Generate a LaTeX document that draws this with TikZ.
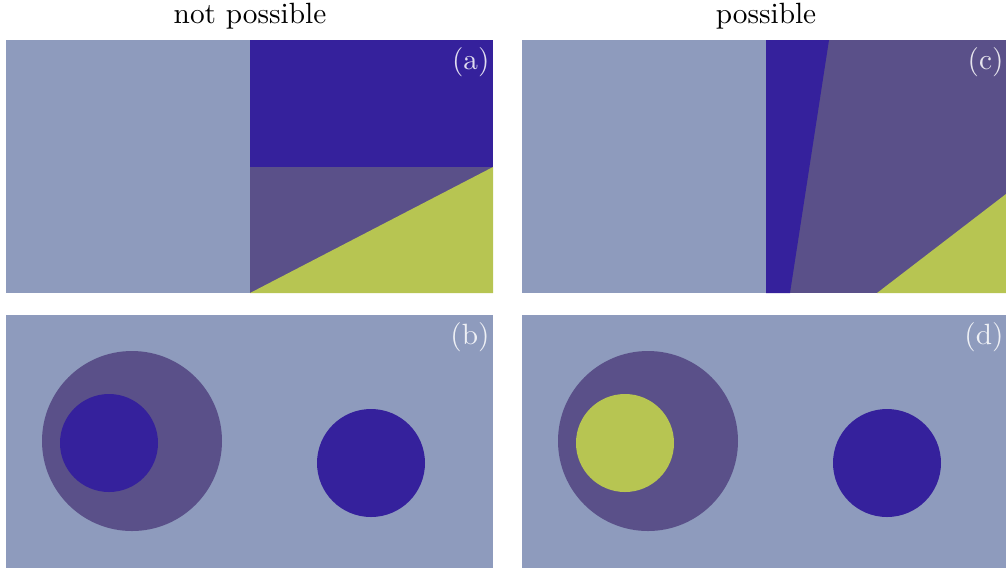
\documentclass[tikz,border=0pt]{standalone}
\usepackage{tikz}
\usetikzlibrary{positioning}
\definecolor{bgray}{HTML}{8E9BBD}
\definecolor{dblue}{HTML}{35219C}
\definecolor{dpurple}{HTML}{5A5089}
\definecolor{lgreen}{HTML}{B7C552}
\begin{document}
\begin{tikzpicture}[
    x=0.012cm, y=-0.012cm,
    panel/.style={fill=bgray},
    tag/.style={anchor=north east, text=white, opacity=0.85, inner xsep=1pt, inner ysep=2pt},
    title/.style={font=\normalsize},
]
\useasboundingbox (0,0) rectangle (1006,572);

% titles
\node[title] (tleft) at (250,16) {not possible};
\node[title] (tright) at (766,16) {possible};

% (a)
\fill[panel] (6,40) rectangle (493,293);
\fill[dpurple] (250,167) rectangle (493,293);
\fill[dblue] (250,40) rectangle (493,167);
\fill[lgreen] (250,293) -- (493,167) -- (493,293) -- cycle;
\node[tag] (la) at (493,41) {(a)};

% (c)
\fill[panel] (522,40) rectangle (1006,293);
\fill[dpurple] (766,40) rectangle (1006,293);
\fill[dblue] (766,40) -- (829,40) -- (790,293) -- (766,293) -- cycle;
\fill[lgreen] (877,293) -- (1006,194) -- (1006,293) -- cycle;
\node[tag] (lc) at (1007,41) {(c)};

% (b)
\fill[panel] (6,315) rectangle (493,568);
\fill[dpurple] (132,441) circle (90);
\fill[dblue] (109,443) circle (49);
\fill[dblue] (371,463) circle (54);
\node[tag] (lb) at (493,316) {(b)};

% (d)
\fill[panel] (522,315) rectangle (1006,568);
\fill[dpurple] (648,441) circle (90);
\fill[lgreen] (625,443) circle (49);
\fill[dblue] (887,463) circle (54);
\node[tag] (ld) at (1007,316) {(d)};
\end{tikzpicture}
\end{document}
